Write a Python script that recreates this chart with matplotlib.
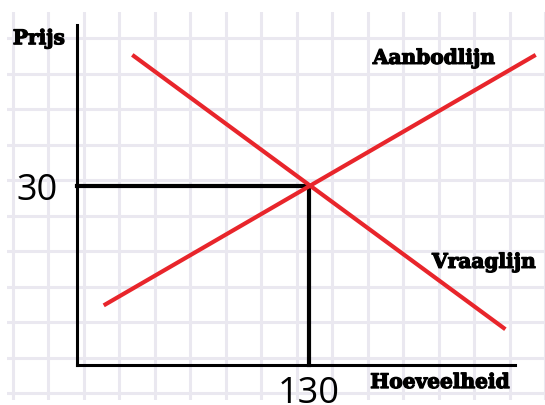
import numpy as np
import matplotlib
matplotlib.use("Agg")
import matplotlib.pyplot as plt
import matplotlib.patheffects as pe

# market data (quantity, price)
supply_q = [15, 257]
supply_p = [10, 52]
demand_q = [31, 240]
demand_p = [52, 6]
eq_q = 130
eq_p = 30

labels = {"price": "Prijs", "quantity": "Hoeveelheid",
          "supply": "Aanbodlijn", "demand": "Vraaglijn"}

red = "#e8252b"
grid_col = "#eae8f0"
slab = "DejaVu Serif"
heavy = [pe.withStroke(linewidth=0.9, foreground="black")]

fig = plt.figure(figsize=(5.45, 4.05), dpi=100)

# squared paper background
bg = fig.add_axes([7 / 545, 5 / 405, 538 / 545, 388 / 405])
bg.set_xlim(7, 545)
bg.set_ylim(400, 12)
bg.set_xticks(np.arange(13, 546, 35.5))
bg.set_yticks(np.arange(38, 400, 35.5))
bg.grid(True, color=grid_col, lw=2.2)
bg.tick_params(length=0, labelbottom=False, labelleft=False)
for s in bg.spines.values():
    s.set_visible(False)

ax = fig.add_axes([0, 0, 1, 1])
ax.patch.set_alpha(0)
ax.set_xlim(-43.1, 262.2)
ax.set_ylim(-6.7, 61.2)

ax.spines["top"].set_visible(False)
ax.spines["right"].set_visible(False)
ax.spines["left"].set_position(("data", 0))
ax.spines["bottom"].set_position(("data", 0))
ax.spines["left"].set_bounds(0, 57)
ax.spines["bottom"].set_bounds(0, 245.4)
ax.spines["left"].set_linewidth(2.2)
ax.spines["bottom"].set_linewidth(2.2)

ax.plot(supply_q, supply_p, color=red, lw=3, solid_capstyle="butt", zorder=3)
ax.plot(demand_q, demand_p, color=red, lw=3, solid_capstyle="butt", zorder=3)
ax.plot([0, eq_q, eq_q], [eq_p, eq_p, 0], color="black", lw=3,
        solid_joinstyle="miter", zorder=2)

ax.set_xticks([eq_q])
ax.set_xticklabels([str(eq_q)])
ax.set_yticks([eq_p])
ax.set_yticklabels([str(eq_p)])
ax.tick_params(length=0, labelsize=26)
ax.tick_params(axis="y", pad=14)
ax.tick_params(axis="x", pad=8)
for t in ax.get_xticklabels() + ax.get_yticklabels():
    t.set_fontfamily("Open Sans")

for key, q, p in [("price", -21.3, 54.8), ("supply", 200, 51.5),
                  ("demand", 228, 17.3), ("quantity", 203.4, -2.85)]:
    ax.text(q, p, labels[key], family=slab, weight="bold", fontsize=14.5,
            ha="center", va="center", path_effects=heavy)

plt.savefig("out.png", dpi=100)
